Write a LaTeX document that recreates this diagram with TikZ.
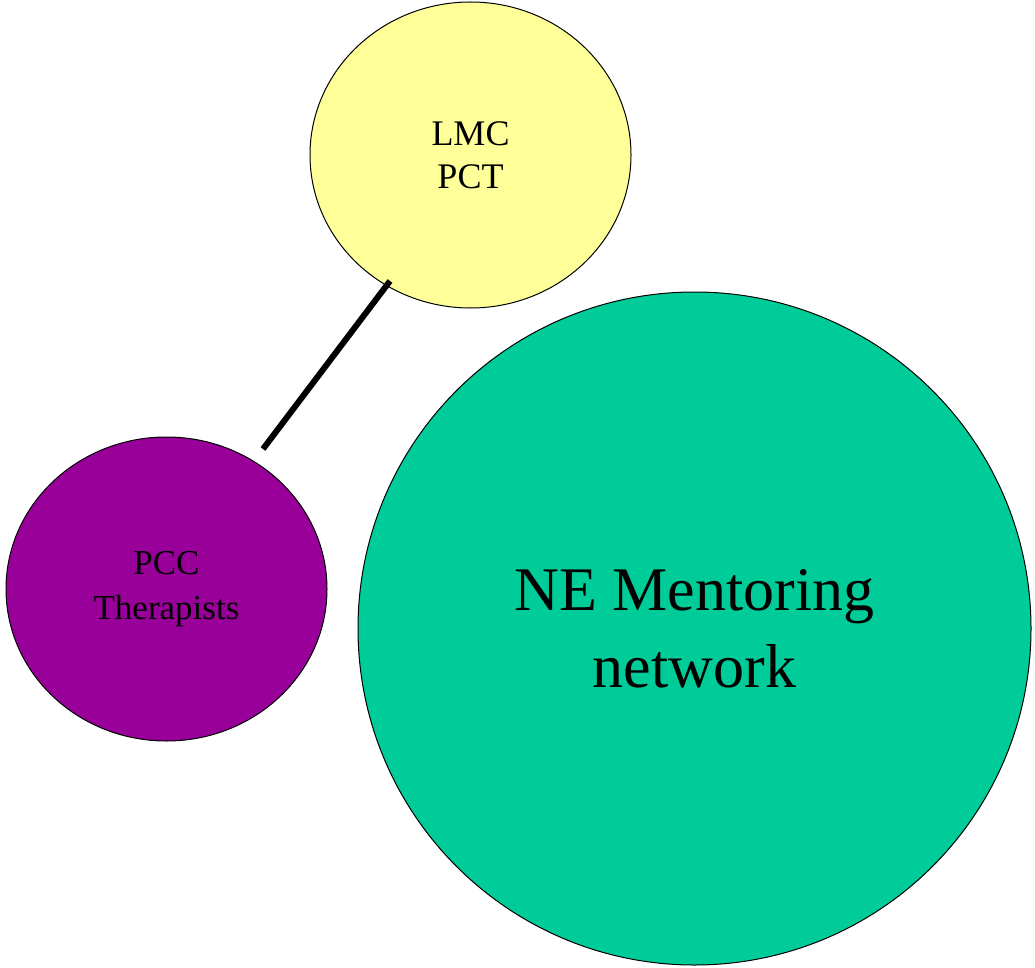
\documentclass[tikz,border=0pt]{standalone}
\usepackage{fontspec}
\setmainfont{Liberation Serif}
\usetikzlibrary{shapes.geometric}
\definecolor{cyellow}{HTML}{FFFF99}
\definecolor{cpurple}{HTML}{990099}
\definecolor{cgreen}{HTML}{00CC99}
\begin{document}
\begin{tikzpicture}[x=1pt,y=-1pt,
  blob/.style={ellipse,draw=black,line width=1pt,inner sep=0pt,align=center,text=black},
  link/.style={line width=6pt,draw=black}]
\useasboundingbox (0,0) rectangle (1035,968);
\node[blob,fill=cyellow,minimum width=321pt,minimum height=306pt,font=\fontsize{36}{43}\selectfont] (lmc) at (470.5,155) {LMC\\PCT};
\node[blob,fill=cpurple,minimum width=321pt,minimum height=304pt,font=\fontsize{35}{45}\selectfont] (pcc) at (166.5,589) {PCC\\Therapists};
\node[blob,fill=cgreen,minimum width=673pt,minimum height=673pt,font=\fontsize{62}{77}\selectfont] (ne) at (694.5,628.5) {NE Mentoring\\network};
\coordinate (a) at (390,281);
\coordinate (b) at (263,449);
\draw[link] (a) -- (b);
\end{tikzpicture}
\end{document}
